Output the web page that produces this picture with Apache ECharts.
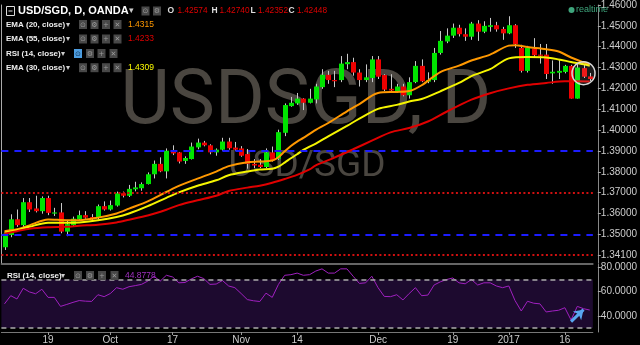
<!DOCTYPE html>
<html><head><meta charset="utf-8">
<script src="https://cdn.jsdelivr.net/npm/echarts@6/dist/echarts.min.js"></script>
<style>html,body{margin:0;padding:0;background:#000;}#c{width:640px;height:345px;}</style>
</head><body><div id="c"></div>
<script>
// ---------- data ----------
const dates = [
'2016-09-08','2016-09-09','2016-09-12','2016-09-13','2016-09-14','2016-09-15','2016-09-16','2016-09-19','2016-09-20','2016-09-21',
'2016-09-22','2016-09-23','2016-09-26','2016-09-27','2016-09-28','2016-09-29','2016-09-30','2016-10-03','2016-10-04','2016-10-05',
'2016-10-06','2016-10-07','2016-10-10','2016-10-11','2016-10-12','2016-10-13','2016-10-14','2016-10-17','2016-10-18','2016-10-19',
'2016-10-20','2016-10-21','2016-10-24','2016-10-25','2016-10-26','2016-10-27','2016-10-28','2016-10-31','2016-11-01','2016-11-02',
'2016-11-03','2016-11-04','2016-11-07','2016-11-08','2016-11-09','2016-11-10','2016-11-11','2016-11-14','2016-11-15','2016-11-16',
'2016-11-17','2016-11-18','2016-11-21','2016-11-22','2016-11-23','2016-11-24','2016-11-25','2016-11-28','2016-11-29','2016-11-30',
'2016-12-01','2016-12-02','2016-12-05','2016-12-06','2016-12-07','2016-12-08','2016-12-09','2016-12-12','2016-12-13','2016-12-14',
'2016-12-15','2016-12-16','2016-12-19','2016-12-20','2016-12-21','2016-12-22','2016-12-23','2016-12-27','2016-12-28','2016-12-29',
'2016-12-30','2017-01-03','2017-01-04','2017-01-05','2017-01-06','2017-01-09','2017-01-10','2017-01-11','2017-01-12','2017-01-13',
'2017-01-16','2017-01-17','2017-01-18','2017-01-19','2017-01-20'];

const openP = [1.3438,1.3497,1.3572,1.3544,1.3654,1.3624,1.3611,1.3674,1.3601,1.3605,
1.3513,1.3544,1.3572,1.3592,1.3583,1.3580,1.3635,1.3619,1.3638,1.3697,
1.3685,1.3716,1.3721,1.3741,1.3788,1.3838,1.3802,1.3901,1.3893,1.3852,
1.3861,1.3917,1.3940,1.3927,1.3893,1.3906,1.3945,1.3916,1.3912,1.3885,
1.3838,1.3834,1.3823,1.3893,1.3862,1.3987,1.4115,1.4128,1.4151,1.4131,
1.4147,1.4206,1.4265,1.4240,1.4240,1.4316,1.4326,1.4276,1.4240,1.4250,
1.4339,1.4264,1.4198,1.4187,1.4209,1.4167,1.4230,1.4308,1.4232,1.4240,
1.4370,1.4425,1.4453,1.4491,1.4460,1.4448,1.4511,1.4472,1.4495,1.4503,
1.4485,1.4464,1.4503,1.4394,1.4284,1.4391,1.4362,1.4362,1.4272,1.4275,
1.4279,1.4308,1.4151,1.4297,1.42574];
const highP = [1.3508,1.3596,1.3619,1.3674,1.3674,1.3685,1.3682,1.3685,1.3627,1.3650,
1.3569,1.3585,1.3614,1.3611,1.3597,1.3643,1.3658,1.3662,1.3705,1.3705,
1.3737,1.3752,1.3749,1.3797,1.3854,1.3869,1.3912,1.3927,1.3895,1.3874,
1.3940,1.3959,1.3948,1.3932,1.3912,1.3963,1.3963,1.3943,1.3923,1.3909,
1.3861,1.3861,1.3912,1.3921,1.4002,1.4128,1.4159,1.4178,1.4153,1.4198,
1.4222,1.4292,1.4284,1.4284,1.4355,1.4366,1.4347,1.4292,1.4315,1.4355,
1.4355,1.4268,1.4268,1.4222,1.4222,1.4253,1.4331,1.4339,1.4277,1.4394,
1.4475,1.4488,1.4511,1.4505,1.4488,1.4519,1.4527,1.4522,1.4538,1.4519,
1.4495,1.4546,1.4508,1.4409,1.4404,1.4441,1.4413,1.4413,1.4334,1.4339,
1.4313,1.4313,1.4316,1.4312,1.42740];
const lowP = [1.3425,1.3486,1.3536,1.3528,1.3607,1.3605,1.3599,1.3592,1.3588,1.3505,
1.3491,1.3535,1.3569,1.3575,1.3567,1.3572,1.3614,1.3614,1.3633,1.3677,
1.3679,1.3706,1.3709,1.3739,1.3768,1.3798,1.3768,1.3880,1.3840,1.3838,
1.3859,1.3908,1.3922,1.3884,1.3877,1.3901,1.3906,1.3901,1.3872,1.3815,
1.3818,1.3818,1.3818,1.3849,1.3857,1.3971,1.4112,1.4121,1.4096,1.4128,
1.4128,1.4198,1.4222,1.4206,1.4230,1.4292,1.4261,1.4209,1.4230,1.4230,
1.4245,1.4187,1.4183,1.4178,1.4162,1.4151,1.4225,1.4230,1.4225,1.4230,
1.4362,1.4417,1.4442,1.4449,1.4428,1.4433,1.4428,1.4465,1.4472,1.4472,
1.4433,1.4460,1.4394,1.4276,1.4276,1.4347,1.4319,1.4245,1.4222,1.4245,
1.4272,1.4151,1.4151,1.4250,1.42352];
const closeP = [1.3503,1.3572,1.3544,1.3654,1.3619,1.3611,1.3674,1.3603,1.3605,1.3513,
1.3549,1.3575,1.3592,1.3580,1.3572,1.3635,1.3619,1.3640,1.3697,1.3685,
1.3718,1.3725,1.3741,1.3788,1.3838,1.3802,1.3901,1.3888,1.3849,1.3866,
1.3921,1.3940,1.3927,1.3893,1.3906,1.3945,1.3913,1.3906,1.3877,1.3838,
1.3830,1.3823,1.3893,1.3854,1.3990,1.4120,1.4131,1.4151,1.4131,1.4151,
1.4209,1.4265,1.4240,1.4238,1.4319,1.4326,1.4276,1.4240,1.4253,1.4339,
1.4256,1.4194,1.4190,1.4209,1.4167,1.4230,1.4308,1.4234,1.4240,1.4370,
1.4428,1.4453,1.4491,1.4460,1.4448,1.4511,1.4472,1.4500,1.4503,1.4483,
1.4464,1.4503,1.4413,1.4284,1.4394,1.4359,1.4359,1.4269,1.4280,1.4284,
1.4308,1.4151,1.4300,1.4256,1.42448];

// EMA readings: [candle index, value]
const ema20 = [[0,1.3515],[2,1.3524],[4,1.3543],[7,1.3571],[10,1.3568],[12,1.3568],[15,1.3580],[18,1.3600],[20,1.3623],[23,1.3658],[26,1.3703],[28,1.3732],[31,1.3767],[34,1.3801],[36,1.3827],[39,1.3846],[41,1.3849],[43,1.3854],[44,1.3870],[45,1.3898],[46,1.3924],[47,1.3945],[48,1.3963],[49,1.3982],[50,1.4001],[52,1.4034],[55,1.4090],[57,1.4125],[60,1.4178],[63,1.4183],[65,1.4187],[67,1.4215],[70,1.4278],[73,1.4309],[75,1.4334],[78,1.4362],[81,1.4405],[82,1.4407],[84,1.4398],[87,1.4388],[89,1.4377],[91,1.4348],[93,1.4325],[94,1.4315]];
const ema30 = [[0,1.3508],[2,1.3520],[4,1.3536],[7,1.3556],[10,1.3555],[12,1.3557],[15,1.3567],[18,1.3583],[20,1.3600],[23,1.3635],[26,1.3675],[28,1.3701],[31,1.3733],[34,1.3759],[36,1.3783],[39,1.3801],[41,1.3811],[43,1.3815],[44,1.3825],[45,1.3844],[46,1.3865],[47,1.3884],[48,1.3905],[49,1.3921],[50,1.3935],[52,1.3970],[55,1.4020],[57,1.4055],[60,1.4102],[63,1.4121],[65,1.4137],[67,1.4149],[70,1.4186],[73,1.4226],[75,1.4259],[78,1.4292],[81,1.4344],[84,1.4350],[87,1.4348],[89,1.4339],[91,1.4327],[93,1.4316],[94,1.4309]];
const ema55 = [[0,1.3503],[2,1.3515],[4,1.3527],[7,1.3534],[10,1.3536],[12,1.3541],[15,1.3546],[18,1.3557],[20,1.3570],[23,1.3590],[26,1.3618],[28,1.3640],[31,1.3663],[34,1.3685],[36,1.3708],[39,1.3724],[41,1.3733],[43,1.3747],[45,1.3765],[47,1.3785],[49,1.3811],[50,1.3831],[53,1.3868],[56,1.3908],[59,1.3949],[62,1.3989],[65,1.4010],[68,1.4041],[71,1.4088],[75,1.4146],[78,1.4177],[81,1.4200],[84,1.4217],[87,1.4226],[90,1.4234],[94,1.4233]];

const rsi = [50,56.7,54,62.8,59.8,58.3,62,55.3,55.3,47.9,
49.5,51.2,52.7,52.2,52,57.5,55.9,58.5,63.3,62,
64.1,65,66,68.7,72.7,68.7,73.5,72.1,67.3,67.6,
70.5,72.7,70.8,66,66.3,69.2,64.7,63.3,58.5,53.5,
52.5,51.9,58.8,55.3,66,73.5,74,75.3,73.5,74,
77,78.8,75.3,75.3,78.8,78.8,72.7,66.8,67.3,72.7,
63.3,56.1,55.9,57.5,53.2,58.5,63.3,56.7,57.2,65.5,
68.1,70,71.3,67.3,66.5,70,65.5,67.3,67.3,64.7,
63.3,64.7,52.7,44.1,52.1,50.5,50,43.3,44.1,44.7,
46.8,36.7,47.9,46,44.8778];

const xTickDates = ['2016-09-19','2016-10-03','2016-10-17','2016-11-01','2016-11-14','2016-12-01','2016-12-19','2017-01-03','2017-01-16'];
const xTickText  = ['19','Oct','17','Nov','14','Dec','19','2017','16'];
const priceTicks = [1.34,1.35,1.36,1.37,1.38,1.39,1.40,1.41,1.42,1.43,1.44,1.45,1.46];
const priceTickText = ['1.34100','1.35000','1.36000','1.37000','1.38000','1.39000','1.40000','1.41000','1.42000','1.43000','1.44000','1.45000','1.46000'];
const rsiTicks = [40,60,80];
const rsiTickText = ['40.0000','60.0000','80.0000'];
const blueLevels = [1.39, 1.3525];
const redLevels = [1.368, 1.3425];
const rsiBand = [30, 70];
const lastPrice = 1.42448, lastPriceText = '1.42448';
const ohlcText = ['1.42574','1.42740','1.42352','1.42448'];
const legendVals = ['1.4315','1.4233','1.4309','44.8778'];
const circleAt = [92.6, 1.4273];
const arrowFrom = [90.8, 35.4], arrowTo = [92.9, 45.2];

// ---------- build ----------
const tickIdx = xTickDates.map(d => dates.indexOf(d));
const candleData = dates.map((d,i)=>[i, openP[i], closeP[i], lowP[i], highP[i]]);

function renderCandle(params, api){
  const i = api.value(0), o = api.value(1), c = api.value(2), l = api.value(3), h = api.value(4);
  const po = api.coord([i,o]), pc = api.coord([i,c]), pl = api.coord([i,l]), ph = api.coord([i,h]);
  const x = Math.round(po[0]) + 0.5;
  const top = Math.min(po[1], pc[1]);
  const bh = Math.max(1.2, Math.abs(po[1]-pc[1]));
  return {type:'group', children:[
    {type:'line', shape:{x1:x, y1:pl[1], x2:x, y2:ph[1]}, style:{stroke:'#c8c8c8', lineWidth:1}},
    {type:'rect', shape:{x:x-2.5, y:top, width:5, height:bh}, style:{fill: c>=o ? '#00e400' : '#ee0000'}}
  ]};
}

const G = [];
const F = '"Liberation Sans", Arial, sans-serif';
function T(x,y,text,fill,font,align){ G.push({type:'text', x:x, y:y, z:50, style:{text:text, fill:fill, font:font, align:align||'left', verticalAlign:'middle'}}); }
function icons(xs, y, hl){
  const glyphs = ['\u2299','\u2699','+','\u2715'];
  xs.forEach((x,k)=>{
    const on = hl && k===0;
    G.push({type:'rect', z:50, shape:{x:x, y:y-4.5, width:8, height:9}, style:{fill: on ? '#4d9de0' : '#484848'}});
    G.push({type:'text', z:51, x:x+4, y:y+0.5, style:{text:glyphs[k], fill: on ? '#10304f' : '#9a9a9a', font:'7px "DejaVu Sans"', align:'center', verticalAlign:'middle'}});
  });
}
// watermark
G.push({type:'text', x:306, y:104, z:-5, style:{text:'USDSGD, D', fill:'#4a4640', font:'76px Roboto', align:'center', verticalAlign:'middle'}});
G.push({type:'text', x:307, y:167, z:-5, style:{text:'USD/SGD', fill:'#4a4640', font:'37px Roboto', align:'center', verticalAlign:'middle'}});
// header line 1
G.push({type:'rect', z:50, shape:{x:6.5, y:6.5, width:8, height:9}, style:{fill:'none', stroke:'#dddddd', lineWidth:1}});
G.push({type:'line', z:50, shape:{x1:8.5, y1:11, x2:12.5, y2:11}, style:{stroke:'#dddddd', lineWidth:1}});
T(18, 11, 'USD/SGD, D, OANDA', '#ffffff', 'bold 11px '+F);
T(129, 11, '\u25BE', '#cccccc', '9px "DejaVu Sans"');
icons([141.5, 153], 11, false);
T(167.5, 11, 'O', '#dddddd', 'bold 8.5px '+F);  T(177.5, 11, ohlcText[0], '#e00000', '8.3px '+F);
T(211.5, 11, 'H', '#dddddd', 'bold 8.5px '+F);  T(219.5, 11, ohlcText[1], '#e00000', '8.3px '+F);
T(250.5, 11, 'L', '#dddddd', 'bold 8.5px '+F);  T(258, 11, ohlcText[2], '#e00000', '8.3px '+F);
T(288.5, 11, 'C', '#dddddd', 'bold 8.5px '+F);  T(297, 11, ohlcText[3], '#e00000', '8.3px '+F);
// indicator legend lines
const legendRows = [
  {y:24.5, t:'EMA (20, close)', v:legendVals[0], c:'#ff9800', ix:[79,90.5,102,113.5], ax:66},
  {y:39,   t:'EMA (55, close)', v:legendVals[1], c:'#e00000', ix:[79,90.5,102,113.5], ax:66},
  {y:53.5, t:'RSI (14, close)', v:'',            c:'#ffffff', ix:[74,86,97.5,109.5], ax:61, hl:true},
  {y:67.7, t:'EMA (30, close)', v:legendVals[2], c:'#ffff00', ix:[79,90.5,102,113.5], ax:66}
];
legendRows.forEach(r=>{
  T(6, r.y, r.t, '#eeeeee', 'bold 8px '+F);
  T(r.ax, r.y, '\u25BE', '#cccccc', '8px "DejaVu Sans"');
  icons(r.ix, r.y, r.hl);
  if (r.v) T(128, r.y, r.v, r.c, '8.5px '+F);
});
// RSI pane legend
T(7, 275.5, 'RSI (14, close)', '#eeeeee', 'bold 8px '+F);
T(61, 275.5, '\u25BE', '#cccccc', '8px "DejaVu Sans"');
icons([74,86,98,110.5], 275.5, false);
T(125, 275.5, legendVals[3], '#a030c0', '8.5px '+F);
// realtime
G.push({type:'circle', z:50, shape:{cx:571.5, cy:10, r:3}, style:{fill:'#3ea57c'}});
T(576, 10, 'realtime', '#3ea57c', '9px '+F);

const hLines = [];
blueLevels.forEach(v=>hLines.push({yAxis:v, lineStyle:{color:'#1c1cff', width:2, type:[7,6]}}));
redLevels.forEach(v=>hLines.push({yAxis:v, lineStyle:{color:'#d01010', width:2, type:[2,2.5]}}));

const chart = echarts.init(document.getElementById('c'), null, {renderer:'canvas'});
chart.setOption({
  backgroundColor:'#000000',
  animation:false,
  graphic: G,
  grid:[
    {left:1.4, top:-0.6, width:602.8, height:263.6},
    {left:1.4, top:264, width:602.8, height:70}
  ],
  xAxis:[
    {type:'category', gridIndex:0, data:dates, boundaryGap:true, show:false},
    {type:'category', gridIndex:1, data:dates, boundaryGap:true, position:'bottom',
      axisLine:{show:true, lineStyle:{color:'#777777', width:1}},
      axisTick:{show:true, alignWithLabel:true, length:3, interval:(i)=>tickIdx.includes(i), lineStyle:{color:'#999999'}},
      axisLabel:{interval:(i)=>tickIdx.includes(i), formatter:(v)=>xTickText[xTickDates.indexOf(v)], color:'#cccccc', fontSize:10, fontFamily:'Liberation Sans', margin:3},
      splitLine:{show:false}},
    {type:'category', gridIndex:1, data:dates, position:'top', axisLine:{show:true, lineStyle:{color:'#888888', width:1.5}}, axisTick:{show:false}, axisLabel:{show:false}}
  ],
  yAxis:[
    {type:'value', gridIndex:0, position:'right', offset:5, min:1.33624, max:1.46, scale:true,
      axisLine:{show:true, lineStyle:{color:'#888888'}},
      axisTick:{show:true, length:3, customValues:priceTicks, lineStyle:{color:'#aaaaaa'}},
      axisLabel:{customValues:priceTicks, formatter:(v)=>{let k=0,b=1e9;priceTicks.forEach((t,j)=>{if(Math.abs(t-v)<b){b=Math.abs(t-v);k=j;}});return priceTickText[k];}, color:'#cccccc', fontSize:10, fontFamily:'Liberation Sans', margin:3},
      splitLine:{show:false}},
    {type:'value', gridIndex:0, position:'left', min:1.33624, max:1.46, axisLine:{show:true, lineStyle:{color:'#aaaaaa'}}, axisTick:{show:false}, axisLabel:{show:false}, splitLine:{show:false}},
    {type:'value', gridIndex:1, position:'right', offset:5, min:26.8, max:82.8,
      axisLine:{show:true, lineStyle:{color:'#888888'}},
      axisTick:{show:true, length:3, customValues:rsiTicks, lineStyle:{color:'#aaaaaa'}},
      axisLabel:{customValues:rsiTicks, formatter:(v)=>rsiTickText[rsiTicks.indexOf(Math.round(v))], color:'#cccccc', fontSize:10, fontFamily:'Liberation Sans', margin:3},
      splitLine:{show:false}}
  ],
  series:[
    {type:'line', name:'levels', xAxisIndex:0, yAxisIndex:0, data:[], z:1,
      markLine:{silent:true, symbol:['none','none'], label:{show:false}, data:hLines}},
    {type:'custom', name:'candles', xAxisIndex:0, yAxisIndex:0, renderItem:renderCandle, data:candleData,
      encode:{x:0, y:[1,2,3,4]}, z:3},
    {type:'line', name:'EMA20', xAxisIndex:0, yAxisIndex:0, data:ema20, showSymbol:false, smooth:0.3, z:4,
      lineStyle:{color:'#ff9800', width:2}},
    {type:'line', name:'EMA30', xAxisIndex:0, yAxisIndex:0, data:ema30, showSymbol:false, smooth:0.3, z:4,
      lineStyle:{color:'#f5f500', width:2}},
    {type:'line', name:'EMA55', xAxisIndex:0, yAxisIndex:0, data:ema55, showSymbol:false, smooth:0.3, z:4,
      lineStyle:{color:'#e00000', width:2},
      markLine:{silent:true, symbol:['none','none'],
        data:[{yAxis:lastPrice, lineStyle:{opacity:0}, label:{show:true, position:'end', distance:5, formatter:()=>lastPriceText, backgroundColor:'#e00000', color:'#ffffff', fontWeight:'bold', fontSize:9.5, fontFamily:'Liberation Sans', padding:[1,3,1,2]}}]},
      markPoint:{silent:true, data:[{coord:circleAt, symbol:'circle', symbolSize:23, itemStyle:{color:'rgba(255,255,255,0.10)', borderColor:'#d8d8d8', borderWidth:1.5}, label:{show:false}}]}},
    {type:'line', name:'RSI', xAxisIndex:1, yAxisIndex:2, data:rsi, showSymbol:false, z:4,
      lineStyle:{color:'#a020c0', width:1},
      markArea:{silent:true, itemStyle:{color:'#1d0a2f'}, data:[[{yAxis:rsiBand[0]},{yAxis:rsiBand[1]}]]},
      markLine:{silent:true, symbol:['none','none'], label:{show:false},
        data:rsiBand.map(v=>({yAxis:v, lineStyle:{color:'#aaaaaa', width:1.5, type:[5,4]}}))}},
    {type:'line', name:'arrow', xAxisIndex:1, yAxisIndex:2, data:[], z:6,
      markLine:{silent:true, symbol:['none','arrow'], symbolSize:[9,9], label:{show:false},
        data:[[{coord:arrowFrom, lineStyle:{color:'#58a6f0', width:3, type:'solid'}},{coord:arrowTo}]]}}
  ]
});
</script>
</body></html>
